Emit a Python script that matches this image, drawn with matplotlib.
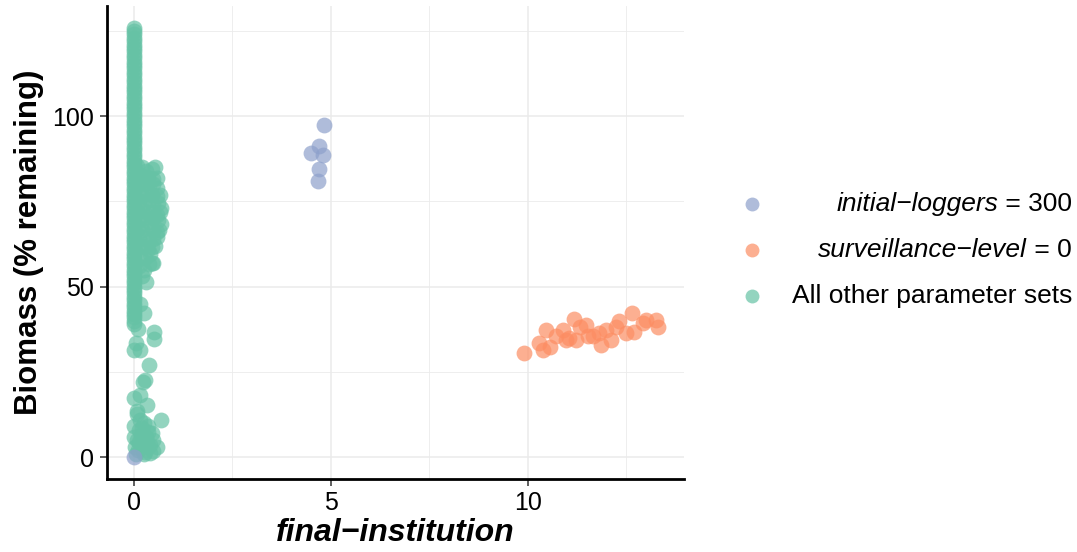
import matplotlib.pyplot as plt
from matplotlib.lines import Line2D

plt.rcParams['font.family'] = ['Liberation Sans', 'DejaVu Sans']

# colours (Set2)
col_loggers = "#8DA0CB"
col_surv = "#FC8D62"
col_other = "#66C2A5"

# all other parameter sets: dense column at final-institution = 0
other_col_y = [126, 125, 124, 123, 122, 121, 120, 119, 118, 117, 116, 115, 114,
               113, 112, 111, 110, 109, 108, 107, 106, 105, 104, 103, 102, 101,
               100, 99, 98, 97, 96, 95, 94, 93, 92, 91, 90, 89, 88, 87, 86, 85,
               84, 83, 82, 81, 80, 79, 78, 77, 76, 75, 74, 73, 72, 71, 70, 69,
               68, 67, 66, 65, 64, 63, 62, 61, 60, 59, 58, 57, 56, 55, 54, 53,
               52, 51, 50, 49, 48, 47, 46, 45, 44, 43, 42, 41, 40, 39]
other_col_x = [0.0] * len(other_col_y)

# all other parameter sets: blob beside the column
blob_x = [0.08, 0.20, 0.32, 0.45, 0.55,
          0.10, 0.22, 0.35, 0.48, 0.58,
          0.12, 0.25, 0.38, 0.50, 0.60,
          0.10, 0.22, 0.34, 0.46, 0.58, 0.66,
          0.12, 0.25, 0.38, 0.50, 0.62, 0.68,
          0.10, 0.22, 0.35, 0.48, 0.60, 0.67,
          0.12, 0.25, 0.38, 0.50, 0.62, 0.68,
          0.10, 0.22, 0.35, 0.48, 0.60, 0.65,
          0.12, 0.25, 0.38, 0.50, 0.60,
          0.10, 0.22, 0.35, 0.46, 0.55,
          0.15, 0.28, 0.40, 0.50,
          0.12, 0.25, 0.38, 0.47,
          0.20, 0.32]
blob_y = [85.5, 85, 84, 84.5, 85,
          83, 82.5, 82, 81.5, 82,
          80, 80.5, 79.5, 80, 79,
          77.5, 77, 78, 77, 76.5, 77,
          75, 74.5, 75.5, 74, 74.5, 73,
          72, 72.5, 71.5, 72, 71, 72,
          69.5, 70, 69, 70, 69.5, 68.5,
          67, 66.5, 67.5, 66.5, 66, 66.5,
          64, 64.5, 63.5, 64, 64.5,
          61.5, 62, 61, 61.5, 62,
          59, 58.5, 59.5, 57,
          56, 55, 56.5, 56.9,
          53, 51.5]

# all other parameter sets: scattered low-biomass runs
low_x = [0.15, 0.26, 0.10, 0.51, 0.51, 0.05, 0.0, 0.17, 0.38, 0.28,
         0.24, 0.0, 0.15, 0.34, 0.07, 0.70, 0.25, 0.0, 0.12, 0.30,
         0.07, 0.45, 0.58, 0.41, 0.25, 0.10, 0.20, 0.33, 0.05, 0.15,
         0.35, 0.50, 0.03, 0.18, 0.28, 0.40, 0.0, 0.22, 0.12, 0.36,
         0.48, 0.08]
low_y = [45, 42.2, 37.5, 36.8, 34.5, 33.5, 31.5, 31.5, 27, 22.7,
         21.9, 17.3, 18.3, 15.3, 13.4, 10.9, 10, 9, 8, 6,
         5, 7, 3.1, 1.2, 0.8, 2, 3, 4, 1, 11,
         9, 5, 3, 6.5, 1.5, 3.5, 6, 8.5, 4.5, 7.5,
         1.8, 12.5]

# surveillance-level = 0
surv_x = [9.90, 10.30, 10.39, 10.47, 10.56, 10.72, 10.89, 10.98, 11.06, 11.19,
          11.23, 11.32, 11.49, 11.53, 11.65, 11.82, 11.86, 11.99, 12.11, 12.24,
          12.33, 12.49, 12.66, 12.71, 12.92, 13.00, 13.25, 13.32]
surv_y = [30.5, 33.6, 31.5, 37.3, 32.4, 35.4, 37.3, 34.4, 34.9, 40.5,
          34.4, 38.3, 38.8, 35.4, 35.4, 36.4, 32.9, 37.3, 34.4, 38.3,
          39.8, 36.4, 42.2, 36.8, 39.3, 40.3, 40.3, 38.1]

# initial-loggers = 300
log_x = [0.0, 4.51, 4.71, 4.80, 4.82, 4.71, 4.68]
log_y = [0.0, 89.1, 91.2, 88.6, 97.3, 84.5, 81.1]

legend_labels = [("initial\u2212loggers", " = 300", col_loggers),
                 ("surveillance\u2212level", " = 0", col_surv),
                 ("", "All other parameter sets", col_other)]

fig = plt.figure(figsize=(10.77, 5.52), dpi=100)
ax = fig.add_axes([0.099, 0.133, 0.536, 0.856])

ms = 130
for xs, ys in [(other_col_x, other_col_y), (blob_x, blob_y), (low_x, low_y)]:
    ax.scatter(xs, ys, s=ms, c=col_other, alpha=0.7, lw=0, zorder=3)
ax.scatter(surv_x, surv_y, s=ms, c=col_surv, alpha=0.7, lw=0, zorder=3)
ax.scatter(log_x, log_y, s=ms, c=col_loggers, alpha=0.7, lw=0, zorder=4)

ax.set_xlim(-0.69, 13.97)
ax.set_ylim(-6.3, 132.3)
ax.set_xticks([0, 5, 10])
ax.set_yticks([0, 50, 100])
ax.set_xticks([2.5, 7.5, 12.5], minor=True)
ax.set_yticks([25, 75, 125], minor=True)
ax.grid(True, which='major', color='#EBEBEB', lw=1.1, zorder=0)
ax.grid(True, which='minor', color='#EBEBEB', lw=0.6, zorder=0)
ax.set_axisbelow(True)

for s in ['top', 'right']:
    ax.spines[s].set_visible(False)
for s in ['left', 'bottom']:
    ax.spines[s].set_linewidth(2)
ax.tick_params(which='major', length=5, width=1.1, color='#333333',
               labelsize=18, labelcolor='black', pad=4)
ax.tick_params(which='minor', length=0)

ax.set_xlabel("final\u2212institution", fontsize=23, fontweight='bold',
              fontstyle='italic', labelpad=2)
ax.set_ylabel("Biomass (% remaining)", fontsize=22.5, fontweight='bold', labelpad=6)

# legend drawn by hand so the labels can be right-aligned
row_y = [1 - 204 / 552, 1 - 250 / 552, 1 - 296 / 552]
for (it, rest, col), yy in zip(legend_labels, row_y):
    fig.add_artist(Line2D([752 / 1077], [yy], marker='o', ms=10, mew=0,
                          color=col, alpha=0.7, transform=fig.transFigure))
    t = fig.text(1072 / 1077, yy, rest, ha='right', va='center', fontsize=19)
    if it:
        ax.annotate(it, xy=(0, 0), xycoords=t, ha='right', va='bottom',
                    fontsize=19, fontstyle='italic', annotation_clip=False)

fig.savefig("out.png", dpi=100)
